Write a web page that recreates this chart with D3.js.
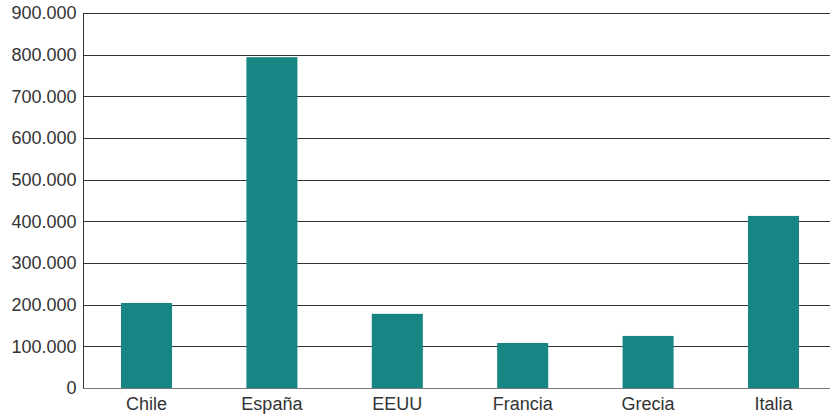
<!DOCTYPE html>
<html>
<head>
<meta charset="utf-8">
<script src="https://cdn.jsdelivr.net/npm/d3@7/dist/d3.min.js"></script>
<style>
  html, body { margin: 0; padding: 0; background: #fff; }
  svg { display: block; }
  text { font-family: "Liberation Sans", Arial, Helvetica, sans-serif; fill: #333; }
</style>
</head>
<body>
<svg id="chart" width="830" height="415"></svg>
<script>
const categories = ["Chile", "España", "EEUU", "Francia", "Grecia", "Italia"];
const values = [204000, 794000, 178000, 108000, 125000, 413000];
const yTicks = [0, 100000, 200000, 300000, 400000, 500000, 600000, 700000, 800000, 900000];

const svg = d3.select("#chart");
const x0 = 83.8, x1 = 836.2, yTop = 13, yBottom = 388;

const x = d3.scaleBand().domain(categories).range([x0, x1]).paddingInner(0.593).paddingOuter(0.2965);
const y = d3.scaleLinear().domain([0, 900000]).range([yBottom, yTop]);

const fmt = v => v === 0 ? "0" : d3.format(",")(v).replace(/,/g, ".");

// gridlines
svg.append("g").selectAll("line").data(yTicks.filter(t => t > 0)).join("line")
  .attr("x1", 83).attr("x2", 830)
  .attr("y1", d => Math.round(y(d)) + 0.5).attr("y2", d => Math.round(y(d)) + 0.5)
  .attr("stroke", "#333").attr("stroke-width", 1);

// bars
svg.append("g").selectAll("rect").data(values).join("rect")
  .attr("x", (d, i) => x(categories[i]))
  .attr("width", x.bandwidth())
  .attr("y", d => y(d))
  .attr("height", d => y(0) - y(d))
  .attr("fill", "#178583");

// y axis
const yAxis = d3.axisLeft(y).tickValues(yTicks).tickFormat(fmt).tickSize(0).tickPadding(7);
const gy = svg.append("g").attr("transform", "translate(83.5,0)").call(yAxis);
gy.select(".domain").attr("stroke", "#333").attr("d", `M0,${yTop}V${yBottom}`);
gy.selectAll("text").style("font-size", "18px").attr("fill", "#333")
  .style("font-family", '"Liberation Sans", Arial, Helvetica, sans-serif');

// x axis
const xAxis = d3.axisBottom(x).tickSize(0).tickPadding(9);
const gx = svg.append("g").attr("transform", `translate(0,${yBottom + 0.5})`).call(xAxis);
gx.select(".domain").attr("stroke", "#777").attr("d", `M83,0H830`);
gx.selectAll("text").style("font-size", "18px").attr("fill", "#333")
  .style("font-family", '"Liberation Sans", Arial, Helvetica, sans-serif');
</script>
</body>
</html>
